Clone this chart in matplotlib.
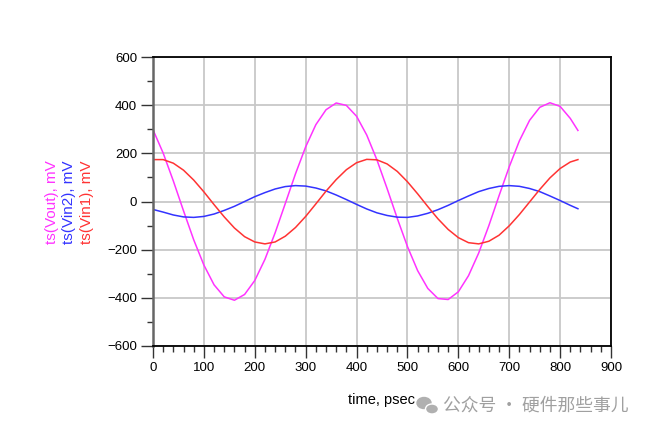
import numpy as np
import matplotlib
matplotlib.use('Agg')
import matplotlib.pyplot as plt
from matplotlib.ticker import MultipleLocator
from matplotlib.patches import Ellipse

# sample times, psec
t = [0, 20, 40, 60, 80, 100, 120, 140, 160, 180, 200, 220, 240, 260, 280, 300,
     320, 340, 360, 380, 400, 420, 440, 460, 480, 500, 520, 540, 560, 580, 600,
     620, 640, 660, 680, 700, 720, 740, 760, 780, 800, 820, 835]

# ts(Vout), mV
vout = [298, 201, 85, -39, -159, -264, -346, -396, -410, -386, -328, -240, -130,
        -8, 115, 227, 319, 381, 409, 399, 354, 276, 173, 54, -70, -187, -287,
        -361, -403, -407, -375, -308, -214, -100, 24, 144, 252, 337, 391, 410,
        395, 345, 295]

# ts(Vin2), mV
vin2 = [-33, -44, -56, -64, -66, -62, -52, -37, -20, 0, 20, 37, 52, 62, 66, 64,
        56, 44, 27, 8, -12, -31, -47, -58, -65, -66, -60, -49, -34, -16, 4, 23,
        41, 54, 63, 66, 63, 54, 41, 23, 4, -16, -30]

# ts(Vin1), mV
vin1 = [174, 174, 159, 130, 89, 40, -13, -64, -110, -146, -168, -176, -168,
        -144, -108, -62, -10, 43, 91, 132, 161, 175, 173, 156, 125, 82, 32, -21,
        -72, -116, -150, -171, -176, -165, -140, -101, -54, -2, 50, 98, 137, 164,
        174]

labels = ['ts(Vout), mV', 'ts(Vin2), mV', 'ts(Vin1), mV']
colors = ['#ff33ff', '#3333ff', '#ff3333']

fig = plt.figure(figsize=(6.52, 4.32), dpi=100)
ax = fig.add_axes([153/652, 1-346/432, 458/652, 289/432])

for y, c in zip([vout, vin2, vin1], colors):
    ax.plot(t, y, color=c, lw=1.1)

ax.set_xlim(0, 900)
ax.set_ylim(-600, 600)
ax.xaxis.set_major_locator(MultipleLocator(100))
ax.xaxis.set_minor_locator(MultipleLocator(20))
ax.yaxis.set_major_locator(MultipleLocator(200))
ax.yaxis.set_minor_locator(MultipleLocator(100))
ax.grid(True, which='major', color='#c8c8c8', lw=1.3)
ax.set_axisbelow(True)

ax.tick_params(which='major', length=8.5, width=1, color='#333333',
               labelsize=9.5, pad=3)
ax.tick_params(which='minor', length=4.3, width=1, color='#333333')
for s in ['top', 'right', 'bottom']:
    ax.spines[s].set_color('black')
    ax.spines[s].set_linewidth(1.3)
ax.spines['left'].set_color('#666666')
ax.spines['left'].set_linewidth(1.8)

for lab in ax.get_xticklabels() + ax.get_yticklabels():
    lab.set_family('Liberation Sans')

ax.set_xlabel('time, psec', family='Liberation Sans', fontsize=10.5, labelpad=14)

# stacked y-labels
for i, (lab, c) in enumerate(zip(labels, colors)):
    fig.text((52 + 17.5*i)/652, 1-202/432, lab, rotation=90, color=c,
             family='Liberation Sans', fontsize=11, ha='center', va='center')

# watermark
fig.patches.append(Ellipse((424/652, 1-403/432), 14/652, 11/432, color='#b0b0b0',
                           transform=fig.transFigure, figure=fig))
fig.patches.append(Ellipse((432/652, 1-409/432), 13/652, 10/432, color='#b0b0b0',
                           ec='white', lw=1, transform=fig.transFigure, figure=fig))
fig.text(443/652, 1-406/432, '公众号 · 硬件那些事儿', color='#a0a0a0',
         family=['Noto Sans CJK SC', 'DejaVu Sans'], fontsize=12.8,
         ha='left', va='center')

fig.savefig('out.png', dpi=100)
